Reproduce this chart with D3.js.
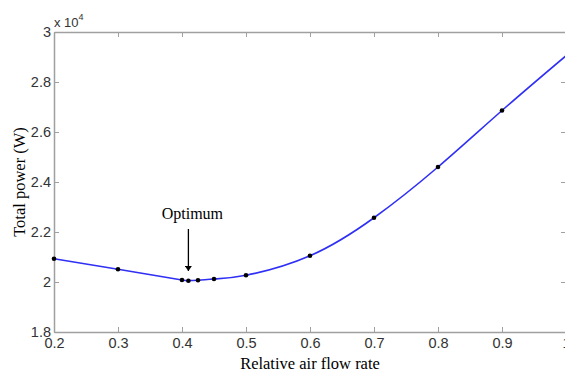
<!DOCTYPE html>
<html>
<head>
<meta charset="utf-8">
<script src="https://cdn.jsdelivr.net/npm/d3@7"></script>
<style>
  body { margin: 0; background: #fff; }
  svg { display: block; }
  .tick text { font-family: Arial, "Liberation Sans", sans-serif; font-size: 14.5px; fill: #333; }
  .axis path, .axis line { stroke: #a0a0a0; }
</style>
</head>
<body>
<div id="chart"></div>
<script>
// relative air flow rate vs total power (x 10^4 W)
var flowRate = [0.2, 0.3, 0.4, 0.41, 0.425, 0.45, 0.5, 0.6, 0.7, 0.8, 0.9, 1.0]
var totalPower = [2.093, 2.051, 2.008, 2.005, 2.007, 2.012, 2.027, 2.105, 2.257, 2.46, 2.686, 2.905]
var xTicks = [0.2, 0.3, 0.4, 0.5, 0.6, 0.7, 0.8, 0.9, 1.0]
var yTicks = [1.8, 2, 2.2, 2.4, 2.6, 2.8, 3]
var optimumX = 0.41

var width = 565, height = 373
var margin = {top: 32, right: -1, bottom: 41, left: 54}
var plotW = width - margin.left - margin.right
var plotH = height - margin.top - margin.bottom

var svg = d3.select('#chart').append('svg')
    .attr('width', width)
    .attr('height', height)

var g = svg.append('g')
    .attr('transform', 'translate(' + margin.left + ',' + margin.top + ')')

var x = d3.scaleLinear().domain([0.2, 1.0]).range([0, plotW])
var y = d3.scaleLinear().domain([1.8, 3]).range([plotH, 0])

var data = flowRate.map((d, i) => ({x: d, y: totalPower[i]}))

// axes, ticks pointing inward
var fmt = d => d3.format('~g')(d)
g.append('g').attr('class', 'axis')
    .attr('transform', 'translate(0,' + plotH + ')')
    .call(d3.axisBottom(x).tickValues(xTicks).tickFormat(fmt).tickSizeInner(-5).tickSizeOuter(0).tickPadding(6))
g.append('g').attr('class', 'axis')
    .call(d3.axisTop(x).tickValues(xTicks).tickFormat('').tickSizeInner(-5).tickSizeOuter(0))
g.append('g').attr('class', 'axis')
    .call(d3.axisLeft(y).tickValues(yTicks).tickFormat(fmt).tickSizeInner(-5).tickSizeOuter(0).tickPadding(3))
g.append('g').attr('class', 'axis')
    .attr('transform', 'translate(' + plotW + ',0)')
    .call(d3.axisRight(y).tickValues(yTicks).tickFormat('').tickSizeInner(-5).tickSizeOuter(0))

g.selectAll('.axis .domain').attr('stroke-width', 1.5)

// curve
var line = d3.line()
    .x(d => x(d.x))
    .y(d => y(d.y))
    .curve(d3.curveNatural)

g.append('path')
    .datum(data)
    .attr('d', line)
    .attr('fill', 'none')
    .attr('stroke', '#2f2ff5')
    .attr('stroke-width', 1.6)

g.selectAll('circle.pt')
    .data(data.filter(d => d.x < 1))
    .enter()
    .append('circle')
    .attr('class', 'pt')
    .attr('cx', d => x(d.x))
    .attr('cy', d => y(d.y))
    .attr('r', 2.3)
    .attr('fill', '#000')

// optimum annotation
svg.append('defs').append('marker')
    .attr('id', 'arrow')
    .attr('viewBox', '0 0 10 10')
    .attr('refX', 10).attr('refY', 5)
    .attr('markerWidth', 5).attr('markerHeight', 7)
    .attr('markerUnits', 'userSpaceOnUse')
    .attr('orient', 'auto')
    .attr('preserveAspectRatio', 'none')
    .append('path')
    .attr('d', 'M0,0L10,5L0,10z')
    .attr('fill', '#000')

g.append('line')
    .attr('x1', x(optimumX)).attr('x2', x(optimumX))
    .attr('y1', 197).attr('y2', 239)
    .attr('stroke', '#000')
    .attr('stroke-width', 1.3)
    .attr('marker-end', 'url(#arrow)')

g.append('text')
    .attr('x', x(optimumX) + 4)
    .attr('y', 187)
    .attr('text-anchor', 'middle')
    .style('font-family', '"Liberation Serif", "Times New Roman", serif')
    .style('font-size', '16px')
    .text('Optimum')

// exponent label
var expo = svg.append('text')
    .attr('x', margin.left)
    .attr('y', 27)
    .style('font-family', 'Arial, "Liberation Sans", sans-serif')
    .style('font-size', '13px')
    .style('fill', '#333')
expo.append('tspan').text('x 10')
expo.append('tspan').attr('dy', -7).style('font-size', '9px').text('4')

// axis titles
svg.append('text')
    .attr('x', margin.left + (x(1.0)) / 2)
    .attr('y', 369)
    .attr('text-anchor', 'middle')
    .style('font-family', '"Liberation Serif", "Times New Roman", serif')
    .style('font-size', '16.5px')
    .text('Relative air flow rate')

svg.append('text')
    .attr('transform', 'translate(25,' + (margin.top + plotH / 2) + ') rotate(-90)')
    .attr('text-anchor', 'middle')
    .style('font-family', '"Liberation Serif", "Times New Roman", serif')
    .style('font-size', '16.5px')
    .text('Total power (W)')
</script>
</body>
</html>
